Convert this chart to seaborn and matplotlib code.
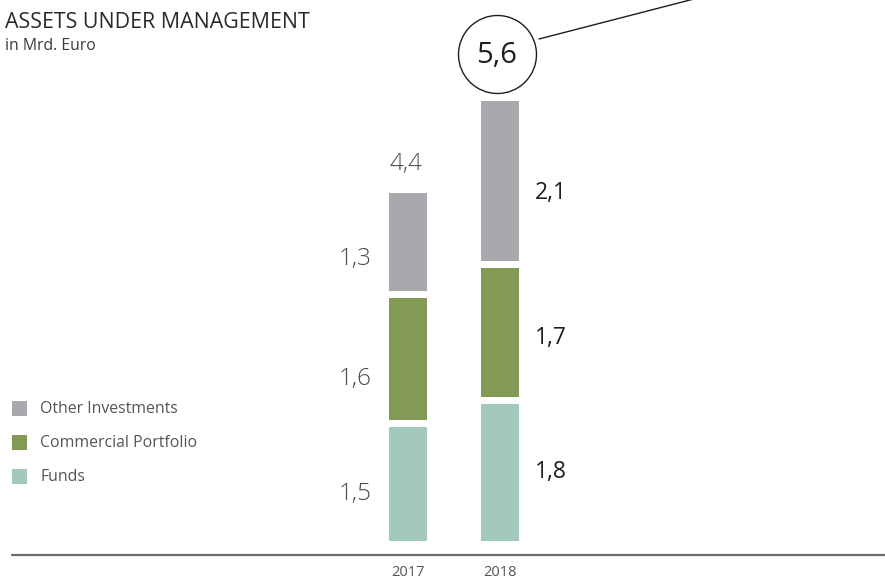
import matplotlib
matplotlib.use("Agg")
import matplotlib.pyplot as plt
from matplotlib.patches import Rectangle
from matplotlib.lines import Line2D
import numpy as np
import pandas as pd
import seaborn as sns

# Assets under management, in Mrd. Euro
years = ["2017", "2018"]
series = ["Funds", "Commercial Portfolio", "Other Investments"]
funds = [1.5, 1.8]
commercial = [1.6, 1.7]
other = [1.3, 2.1]
totals = [4.4, 5.6]

colors = {"Funds": "#A2C9BA", "Commercial Portfolio": "#839A57", "Other Investments": "#A8A9AD"}

sns.set_theme(style="white")
plt.rcParams["font.family"] = ["Open Sans", "DejaVu Sans"]

W, H = 885, 580
fig = plt.figure(figsize=(W / 100, H / 100), dpi=100)
ax = fig.add_axes([0, 0, 1, 1])

# scale: 76 px per Mrd. Euro, bars 92 px apart, baseline at y=541 px
px_unit_y = 76.0
px_unit_x = 92.0
base_px = 541
x0_px = 408
gap = 7 / px_unit_y
bar_w = 38 / px_unit_x

df = pd.DataFrame({"year": years, "Funds": funds,
                   "Commercial Portfolio": commercial, "Other Investments": other})

bottom = np.zeros(len(years))
mids = {}
for i, s in enumerate(series):
    vals = df[s].to_numpy()
    sns.barplot(data=df, x="year", y=s, order=years, color=colors[s], saturation=1,
                width=bar_w, bottom=bottom, ax=ax, errorbar=None, linewidth=0)
    mids[s] = bottom + vals / 2
    bottom = bottom + vals + gap
tops = bottom - gap

ax.set_xlim(-x0_px / px_unit_x, (W - x0_px) / px_unit_x)
ax.set_ylim(-(H - base_px) / px_unit_y, base_px / px_unit_y)
ax.axis("off")

# segment value labels: 2017 on the left (light), 2018 on the right
nudge = {"Funds": [-0.13, 0.01], "Commercial Portfolio": [-0.26, -0.07],
         "Other Investments": [-0.23, -0.16]}
for s, vals in zip(series, [funds, commercial, other]):
    ax.text(-bar_w / 2 - 17 / px_unit_x, mids[s][0] + nudge[s][0],
            f"{vals[0]:.1f}".replace(".", ","), ha="right", va="center",
            fontsize=17.5, color="#4a4a4a", fontweight="light")
    ax.text(1 + bar_w / 2 + 16 / px_unit_x, mids[s][1] + nudge[s][1],
            f"{vals[1]:.1f}".replace(".", ","), ha="left", va="center",
            fontsize=16.5, color="#1e1e1e")

# totals
ax.text(0 - 2 / px_unit_x, tops[0] + 0.38, f"{totals[0]:.1f}".replace(".", ","),
        ha="center", va="center", fontsize=17.5, color="#4a4a4a", fontweight="light")
cx, cy = 1 - 3 / px_unit_x, tops[1] + 0.63
ax.plot([cx], [cy], marker="o", markersize=78 * 0.72, mfc="none", mec="#1e1e1e",
        mew=1.0, clip_on=False)
ax.text(cx, cy - 0.02, f"{totals[1]:.1f}".replace(".", ","), ha="center", va="center",
        fontsize=21, color="#1e1e1e")
fig.add_artist(Line2D([539 / W, 700 / W], [1 - 39 / H, 1 - (39 - 161 * 39 / 151) / H],
                      transform=fig.transFigure, color="#1e1e1e", lw=1.0))

# baseline and year labels
ax.axhline(-(555 - base_px) / px_unit_y, xmin=12 / W, xmax=1, color="#6b6b6b", lw=1.6)
for i, y in enumerate(years):
    ax.text(i, -(573 - base_px) / px_unit_y, y, ha="center", va="center",
            fontsize=10.5, color="#555555")

# title
fig.text(5 / W, 1 - 22 / H, "ASSETS UNDER MANAGEMENT", ha="left", va="center",
         fontsize=15.4, color="#2a2a2a")
fig.text(5 / W, 1 - 46 / H, "in Mrd. Euro", ha="left", va="center",
         fontsize=11.3, color="#3a3a3a")

# legend
for k, s in enumerate(["Other Investments", "Commercial Portfolio", "Funds"]):
    yc = 408 + 34 * k
    fig.add_artist(Rectangle((12 / W, 1 - (yc + 8) / H), 15 / W, 15 / H,
                             transform=fig.transFigure, color=colors[s], lw=0))
    fig.text(40 / W, 1 - (yc + 1) / H, s, ha="left", va="center",
             fontsize=11.4, color="#555555")

fig.savefig("out.png", dpi=100)
